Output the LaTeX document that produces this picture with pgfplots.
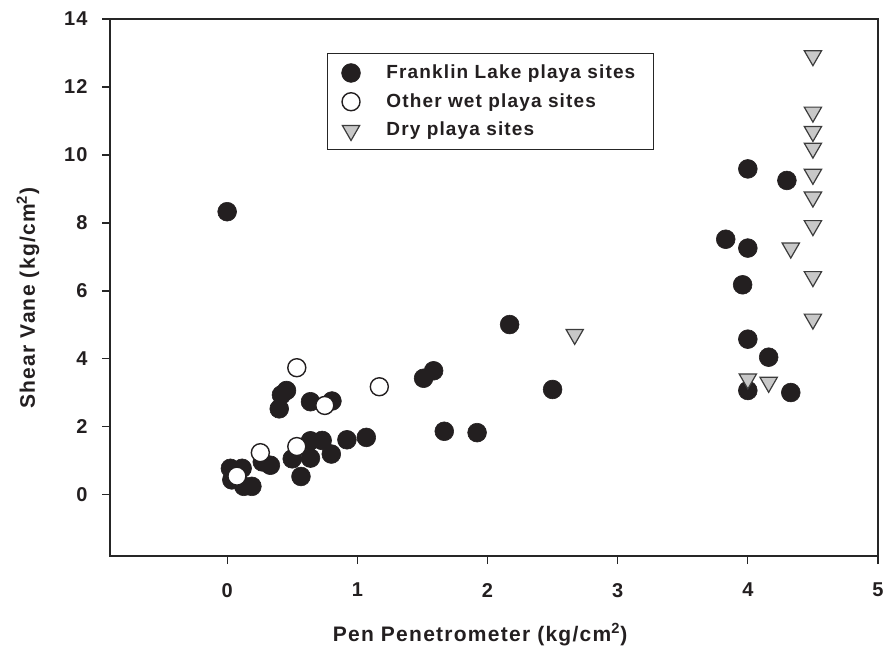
\documentclass[border=0pt]{standalone}
\usepackage{fontspec}
\setmainfont{Liberation Sans}[LetterSpace=6]
\usepackage{pgfplots}
\pgfplotsset{compat=1.18}
\usepackage{pgfplotstable}
\definecolor{blk}{RGB}{35,31,32}
\definecolor{trigray}{RGB}{200,200,200}
\definecolor{trigedge}{RGB}{60,60,60}

\pgfplotstableread{
x y
0.000 8.33
0.025 0.78
0.115 0.78
0.036 0.44
0.128 0.25
0.190 0.25
0.270 0.97
0.332 0.87
0.400 2.53
0.417 2.94
0.456 3.07
0.500 1.06
0.640 1.08
0.640 1.59
0.730 1.60
0.800 1.20
0.567 0.54
0.920 1.62
1.069 1.69
0.640 2.74
0.805 2.76
1.509 3.43
1.586 3.65
1.668 1.87
1.920 1.83
2.170 5.01
2.500 3.10
3.830 7.52
4.000 7.26
3.960 6.18
4.000 9.59
4.300 9.25
4.000 4.58
4.160 4.05
4.000 3.07
4.330 3.01
}\franklin

\pgfplotstableread{
x y
0.075 0.55
0.255 1.24
0.535 1.42
0.535 3.74
0.750 2.63
1.169 3.18
}\otherwet

\pgfplotstableread{
x y
2.67 4.72
4.50 12.92
4.50 11.26
4.50 10.69
4.50 10.20
4.50 9.43
4.50 8.76
4.50 7.92
4.33 7.26
4.50 6.42
4.50 5.17
4.00 3.41
4.16 3.31
}\dry

\begin{document}
\begin{tikzpicture}
\begin{axis}[
  name=ax,
  scale only axis,
  width=384pt, height=268.5pt,
  xmin=-0.9, xmax=5,
  ymin=-1.8, ymax=14,
  xtick={0,1,2,3,4,5},
  ytick={0,2,4,6,8,10,12,14},
  xtick pos=bottom, ytick pos=left,
  tick align=outside,
  major tick length=4pt,
  axis line style={line width=0.6pt, black!85},
  tick style={line width=0.6pt, black!85},
  /pgf/number format/assume math mode=true,
  tick label style={font=\fontsize{10}{12}\selectfont\bfseries, text=blk},
  xticklabel style={yshift=-6pt},
  yticklabel style={xshift=-3.7pt},
  xlabel={Pen Penetrometer (kg/cm\textsuperscript{2})},
  ylabel={Shear Vane (kg/cm\textsuperscript{2})},
  label style={font=\fontsize{10.5}{12}\selectfont\bfseries, text=blk},
  x label style={at={(axis description cs:0.482,-0.147)}, anchor=center},
  y label style={at={(axis description cs:-0.1068,0.48)}, anchor=center},
  legend style={at={(0.2826,0.9367)}, anchor=north west, draw=black!85,
    line width=0.6pt, font=\fontsize{9.5}{11}\selectfont\bfseries,
    text=blk, row sep=2pt, column sep=11pt, inner xsep=7pt, inner ysep=3.5pt,
    cells={anchor=west}},
  legend cell align=left,
]
\addplot[only marks, mark=*, mark size=4.7pt, mark options={fill=blk, draw=blk, line width=0.3pt}] table {\franklin};
\addlegendentry{Franklin Lake playa sites}
\addplot[only marks, mark=*, mark size=4.5pt, mark options={fill=white, draw=blk, line width=0.7pt}] table {\otherwet};
\addlegendentry{Other wet playa sites}
\addplot[only marks, mark=triangle*, mark size=5pt, mark options={rotate=180, fill=trigray, draw=trigedge, line width=0.6pt}] table {\dry};
\addlegendentry{Dry playa sites}
\end{axis}
\pgfresetboundingbox
\path ([shift={(-55pt,-46pt)}]ax.south west) rectangle ([shift={(3pt,9.5pt)}]ax.north east);
\end{tikzpicture}
\end{document}
